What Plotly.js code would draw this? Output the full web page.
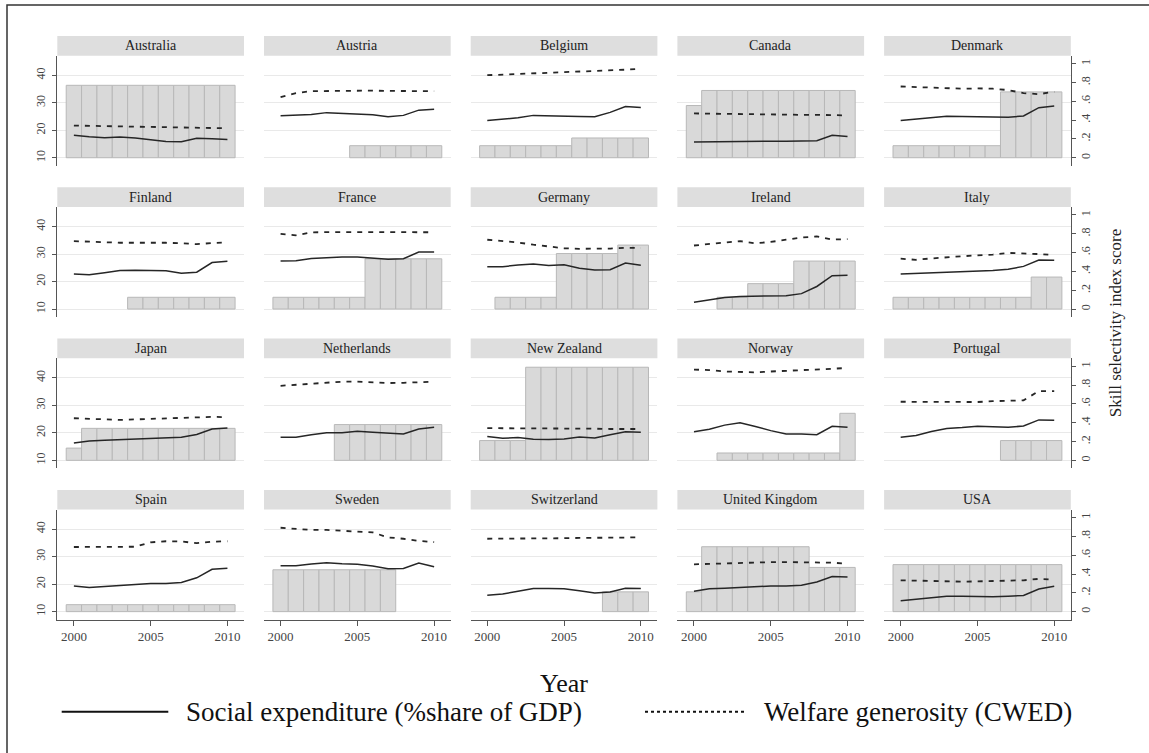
<!DOCTYPE html>
<html><head><meta charset="utf-8">
<script src="https://cdn.plot.ly/plotly-3.0.1.min.js"></script>
<style>html,body{margin:0;padding:0;background:#fff;}#chart{width:1149px;height:753px;}</style>
</head><body><div id="chart"></div>
<script>
const years = [2000,2001,2002,2003,2004,2005,2006,2007,2008,2009,2010];
const countries = ["Australia","Austria","Belgium","Canada","Denmark",
  "Finland","France","Germany","Ireland","Italy",
  "Japan","Netherlands","New Zealand","Norway","Portugal",
  "Spain","Sweden","Switzerland","United Kingdom","USA"];
// Social expenditure (% share of GDP) — left axis
const socialExpenditure = [
  [18.2,17.6,17.3,17.5,17.2,16.6,15.9,15.8,17.1,16.9,16.6],
  [25.3,25.4,25.7,26.4,26.1,25.9,25.6,24.9,25.4,27.3,27.6],
  [23.5,24.1,24.5,25.4,25.2,25.1,25.0,24.9,26.5,28.6,28.3],
  [15.7,15.8,15.9,15.9,16.0,16.0,16.0,16.0,16.2,18.2,17.7],
  [23.5,24.0,24.5,25.1,25.0,25.0,24.8,24.7,25.2,28.2,28.8],
  [22.7,22.5,23.2,24.0,24.1,24.1,23.9,23.0,23.4,26.9,27.4],
  [27.5,27.6,28.4,28.7,28.9,28.9,28.6,28.1,28.3,30.7,30.7],
  [25.4,25.4,26.0,26.4,25.8,26.1,24.8,24.2,24.3,26.7,25.9],
  [12.5,13.4,14.2,14.6,14.7,14.8,14.8,15.6,18.2,22.1,22.3],
  [22.7,22.9,23.1,23.4,23.6,23.8,24.0,24.5,25.5,27.8,27.7],
  [16.3,17.0,17.3,17.5,17.7,18.0,18.2,18.4,19.4,21.4,21.8],
  [18.4,18.4,19.3,20.0,20.0,20.6,20.2,20.0,19.6,21.4,22.0],
  [18.7,18.0,18.3,17.7,17.6,17.8,18.5,18.1,19.3,20.4,20.2],
  [20.4,21.3,22.8,23.7,22.3,20.8,19.6,19.6,19.3,22.4,22.0],
  [18.4,19.0,20.5,21.6,21.9,22.4,22.2,22.0,22.5,24.7,24.6],
  [19.3,18.8,19.1,19.6,19.9,20.2,20.2,20.6,22.3,25.4,25.8],
  [26.7,26.7,27.3,27.8,27.4,27.2,26.6,25.6,25.7,27.7,26.3],
  [16.0,16.4,17.4,18.4,18.4,18.3,17.6,16.8,17.1,18.5,18.4],
  [17.4,18.3,18.5,18.8,19.2,19.3,19.3,19.6,20.8,22.8,22.6],
  [14.0,14.5,15.2,15.6,15.6,15.4,15.4,15.6,15.9,18.2,19.2]
];
// Welfare generosity (CWED) — left axis
const welfareGenerosity = [
  [21.7,21.6,21.4,21.3,21.2,21.1,21.0,20.9,20.8,20.7,20.7],
  [32.0,33.5,34.2,34.3,34.4,34.5,34.4,34.3,34.3,34.2,34.2],
  [40.0,40.2,40.4,40.6,40.8,41.0,41.2,41.4,41.7,42.0,42.4],
  [26.1,26.0,25.9,25.8,25.7,25.6,25.6,25.6,25.6,25.5,25.4],
  [35.9,35.7,35.4,35.1,35.1,35.2,35.1,34.6,33.5,33.1,34.0],
  [34.7,34.5,34.1,34.1,34.1,34.2,34.1,33.9,33.6,34.0,34.2],
  [37.3,36.8,37.9,38.0,38.0,38.0,38.0,38.0,37.9,37.9,37.9],
  [35.2,34.8,34.2,33.4,32.7,32.1,31.9,31.9,32.0,32.3,32.2],
  [33.1,33.7,34.3,34.7,33.9,34.4,35.2,36.0,36.4,35.3,35.4],
  [28.3,27.9,28.4,28.9,29.2,29.5,29.8,30.4,30.3,30.0,29.6],
  [25.3,25.2,24.9,24.7,24.9,25.1,25.2,25.4,25.7,25.8,25.7],
  [37.1,37.5,37.8,38.2,38.6,38.6,38.3,38.1,38.2,38.4,38.6],
  [21.7,21.7,21.7,21.6,21.6,21.6,21.5,21.5,21.4,21.4,21.4],
  [43.0,42.8,42.3,42.2,42.0,42.3,42.5,42.8,43.0,43.3,43.6],
  [31.3,31.3,31.3,31.3,31.3,31.2,31.5,31.7,31.8,35.2,35.2],
  [33.5,33.5,33.5,33.5,33.6,35.2,35.6,35.5,34.9,35.4,35.6],
  [40.5,40.2,39.7,39.7,39.5,39.1,38.8,37.0,36.5,35.7,35.3],
  [36.5,36.5,36.6,36.6,36.7,36.7,36.8,36.8,36.9,36.9,37.0],
  [27.2,27.4,27.6,27.8,27.9,28.0,28.0,28.0,28.0,27.8,27.4],
  [21.4,21.3,21.1,20.9,20.9,21.0,21.1,21.2,21.4,21.9,21.6]
];
// Skill selectivity index score — right axis (bars)
const skillSelectivity = [
  [0.77,0.77,0.77,0.77,0.77,0.77,0.77,0.77,0.77,0.77,0.77],
  [null,null,null,null,null,0.128,0.128,0.128,0.128,0.128,0.128],
  [0.128,0.128,0.128,0.128,0.128,0.128,0.21,0.21,0.21,0.21,0.21],
  [0.555,0.715,0.715,0.715,0.715,0.715,0.715,0.715,0.715,0.715,0.715],
  [0.128,0.128,0.128,0.128,0.128,0.128,0.128,0.70,0.70,0.70,0.70],
  [null,null,null,null,0.125,0.125,0.125,0.125,0.125,0.125,0.125],
  [0.125,0.125,0.125,0.125,0.125,0.125,0.534,0.534,0.534,0.534,0.534],
  [null,0.125,0.125,0.125,0.125,0.59,0.59,0.59,0.59,0.68,0.68],
  [null,null,0.125,0.125,0.27,0.27,0.27,0.51,0.51,0.51,0.51],
  [0.125,0.125,0.125,0.125,0.125,0.125,0.125,0.125,0.125,0.34,0.34],
  [0.13,0.34,0.34,0.34,0.34,0.34,0.34,0.34,0.34,0.34,0.34],
  [null,null,null,null,0.38,0.38,0.38,0.38,0.38,0.38,0.38],
  [0.21,0.21,0.21,0.99,0.99,0.99,0.99,0.99,0.99,0.99,0.99],
  [null,null,0.078,0.078,0.078,0.078,0.078,0.078,0.078,0.078,0.50],
  [null,null,null,null,null,null,null,0.21,0.21,0.21,0.21],
  [0.074,0.074,0.074,0.074,0.074,0.074,0.074,0.074,0.074,0.074,0.074],
  [0.445,0.445,0.445,0.445,0.445,0.445,0.445,0.445,null,null,null],
  [null,null,null,null,null,null,null,null,0.21,0.21,0.21],
  [0.21,0.69,0.69,0.69,0.69,0.69,0.69,0.69,0.47,0.47,0.47],
  [0.50,0.50,0.50,0.50,0.50,0.50,0.50,0.50,0.50,0.50,0.50]
];
const leftTicks = [10,20,30,40];
const rightTicks = [0,0.2,0.4,0.6,0.8,1];
const rightTickText = ["0",".2",".4",".6",".8","1"];
const yearTicks = [2000,2005,2010];
const legendLabels = ["Social expenditure (%share of GDP)","Welfare generosity (CWED)"];
const xTitle = "Year";
const rightTitle = "Skill selectivity index score";

const W = 1149, H = 753;
const FONT = "Liberation Serif";
const px = v => v / W;
const py = v => 1 - v / H;
const leftRange = [7.1, 47.1];
const rightRange = [(7.1 - 10) / 34.2, (47.1 - 10) / 34.2];
const xRange = [1998.92, 2011.08];

const data = [];
const layout = {
  width: W, height: H,
  margin: {l: 0, r: 0, t: 0, b: 0},
  paper_bgcolor: "#fff", plot_bgcolor: "rgba(0,0,0,0)",
  showlegend: false, bargap: 0,
  font: {family: FONT, color: "#333"},
  shapes: [], annotations: []
};

countries.forEach((name, i) => {
  const r = Math.floor(i / 5), c = i % 5, n = i + 1;
  const L = 57.3 + 206.7 * c, R = L + 186.7;
  const T = 55.7 + 151.3 * r, B = 165.7 + 151.3 * r;
  const xId = n === 1 ? "x" : "x" + n;
  const yb = 2 * n - 1, yl = 2 * n;
  const ybId = yb === 1 ? "y" : "y" + yb;
  const ylId = "y" + yl;
  layout[n === 1 ? "xaxis" : "xaxis" + n] = {
    domain: [px(L), px(R)], anchor: ybId, range: xRange,
    showgrid: false, zeroline: false,
    showline: r === 3, linecolor: "#555", linewidth: 1,
    ticks: r === 3 ? "outside" : "", ticklen: 5, tickcolor: "#555",
    tickvals: yearTicks, showticklabels: r === 3,
    tickfont: {family: FONT, size: 13, color: "#444"}
  };
  layout[yb === 1 ? "yaxis" : "yaxis" + yb] = {
    domain: [py(B), py(T)], anchor: xId, side: "right", range: rightRange,
    showgrid: false, zeroline: false,
    showline: c === 4, linecolor: "#555", linewidth: 1,
    ticks: c === 4 ? "outside" : "", ticklen: 4, tickcolor: "#555",
    tickvals: rightTicks, ticktext: rightTickText, showticklabels: c === 4,
    tickangle: -90, tickfont: {family: FONT, size: 12, color: "#444"}
  };
  layout["yaxis" + yl] = {
    overlaying: ybId, anchor: xId, side: "left", range: leftRange,
    showgrid: true, gridcolor: "#e9e9e9", gridwidth: 1, zeroline: false,
    showline: c === 0, linecolor: "#555", linewidth: 1,
    ticks: c === 0 ? "outside" : "", ticklen: 4, tickcolor: "#555",
    tickvals: leftTicks, showticklabels: c === 0, ticklabelstandoff: 3,
    tickangle: -90, tickfont: {family: FONT, size: 12, color: "#444"}
  };
  data.push({
    type: "bar", x: years, y: skillSelectivity[i], xaxis: xId, yaxis: ybId,
    width: 1, marker: {color: "#d9d9d9", line: {color: "#b8b8b8", width: 1}},
    hoverinfo: "skip"
  });
  data.push({
    type: "scatter", mode: "lines", x: years, y: socialExpenditure[i],
    xaxis: xId, yaxis: ylId, line: {color: "#262626", width: 1.5},
    name: legendLabels[0], hoverinfo: "skip"
  });
  data.push({
    type: "scatter", mode: "lines", x: years, y: welfareGenerosity[i],
    xaxis: xId, yaxis: ylId, line: {color: "#262626", width: 1.8, dash: "5px,6px"},
    name: legendLabels[1], hoverinfo: "skip"
  });
  layout.shapes.push({
    type: "rect", xref: "paper", yref: "paper",
    x0: px(L), x1: px(R), y0: py(T), y1: py(T - 19.7),
    fillcolor: "#dedede", line: {width: 0}, layer: "below"
  });
  layout.annotations.push({
    xref: "paper", yref: "paper", x: px((L + R) / 2), y: py(T - 9.85),
    xanchor: "center", yanchor: "middle", showarrow: false, text: name,
    font: {family: FONT, size: 14, color: "#222"}
  });
});

layout.shapes.push({
  type: "rect", xref: "paper", yref: "paper",
  x0: px(7), x1: 1.02, y0: -0.02, y1: py(5),
  line: {color: "#333", width: 1.5}, fillcolor: "rgba(0,0,0,0)"
});
layout.shapes.push({
  type: "line", xref: "paper", yref: "paper",
  x0: px(61.7), x1: px(168.3), y0: py(711.7), y1: py(711.7),
  line: {color: "#111", width: 2}
});
layout.shapes.push({
  type: "line", xref: "paper", yref: "paper",
  x0: px(645), x1: px(747), y0: py(711.7), y1: py(711.7),
  line: {color: "#111", width: 2, dash: "dot"}
});
layout.annotations.push(
  {xref: "paper", yref: "paper", x: px(184), y: py(711.7), xanchor: "left", yanchor: "middle",
   showarrow: false, text: legendLabels[0], font: {family: FONT, size: 27, color: "#111"}},
  {xref: "paper", yref: "paper", x: px(762), y: py(711.7), xanchor: "left", yanchor: "middle",
   showarrow: false, text: legendLabels[1], font: {family: FONT, size: 27, color: "#111"}},
  {xref: "paper", yref: "paper", x: px(564), y: py(683), xanchor: "center", yanchor: "middle",
   showarrow: false, text: xTitle, font: {family: FONT, size: 26, color: "#111"}},
  {xref: "paper", yref: "paper", x: px(1115.7), y: py(323.5), xanchor: "center", yanchor: "middle",
   showarrow: false, textangle: -90, text: rightTitle, font: {family: FONT, size: 17, color: "#222"}}
);

Plotly.newPlot("chart", data, layout, {staticPlot: true, displayModeBar: false});
</script>
</body></html>
